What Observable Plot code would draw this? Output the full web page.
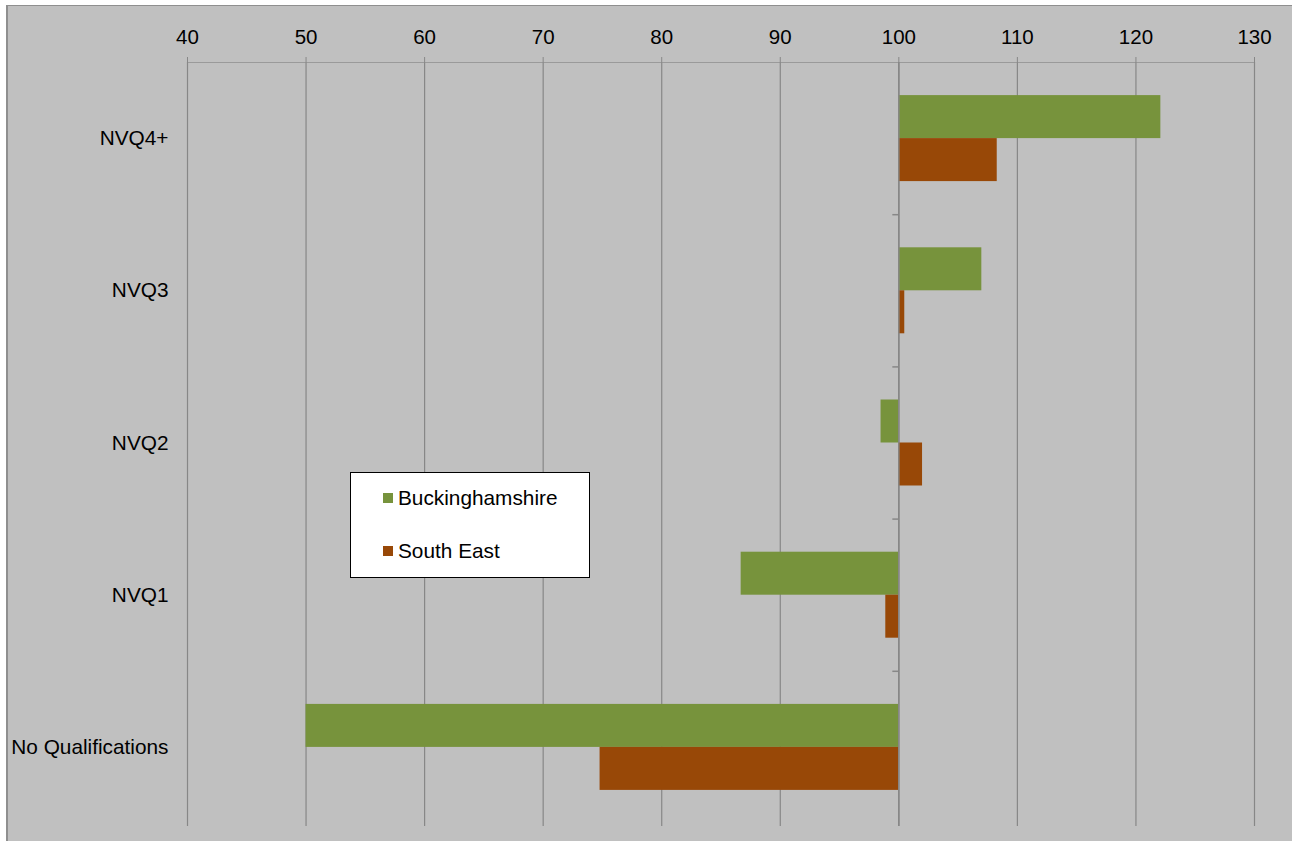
<!DOCTYPE html>
<html>
<head>
<meta charset="utf-8">
<script src="https://cdn.jsdelivr.net/npm/d3@7"></script>
<script src="https://cdn.jsdelivr.net/npm/@observablehq/plot@0.6"></script>
<style>
  html, body { margin: 0; padding: 0; background: #ffffff; }
  body { width: 1292px; height: 841px; position: relative; overflow: hidden; font-family: "Liberation Sans", Arial, sans-serif; }
  #panel { position: absolute; left: 6px; top: 5px; width: 1290px; height: 840px; background: #c0c0c0; border-left: 2px solid #8f8f8f; border-top: 1px solid #8f8f8f; }
  #chart { position: absolute; left: 0; top: 0; }
  #legend { position: absolute; left: 350px; top: 472px; width: 238px; height: 104px; background: #ffffff; border: 1px solid #000000; font-size: 20.8px; color: #000; }
  #legend .item { position: absolute; left: 32px; display: flex; align-items: center; white-space: nowrap; }
  #legend .sw { width: 10px; height: 10px; margin-right: 5px; }
</style>
</head>
<body>
<div id="panel"></div>
<div id="chart"></div>
<div id="legend"></div>
<script>
// Qualification levels (top to bottom) and index values, GB = 100
const categories = ["NVQ4+", "NVQ3", "NVQ2", "NVQ1", "No Qualifications"];
const buckinghamshire = [122.1, 107.0, 98.5, 86.7, 50.0];
const southEast = [108.3, 100.5, 102.0, 98.9, 74.8];
const seriesNames = ["Buckinghamshire", "South East"];
const seriesColors = ["#77933c", "#984807"];
const xTicks = [40, 50, 60, 70, 80, 90, 100, 110, 120, 130];
const baseline = 100;

const rows = categories.flatMap((c, i) => [
  {category: c, series: seriesNames[0], value: buckinghamshire[i]},
  {category: c, series: seriesNames[1], value: southEast[i]}
]);

const width = 1292, height = 841;
const marginTop = 62, marginBottom = 18, marginLeft = 187, marginRight = 38;
const step = (height - marginTop - marginBottom) / categories.length;
const paddingInner = 0.435;
const half = step * (1 - paddingInner) / 2;

const chart = Plot.plot({
  width, height,
  marginTop, marginBottom, marginLeft, marginRight,
  style: {background: "transparent", fontFamily: "'Liberation Sans', Arial, sans-serif", fontSize: "20.8px", color: "#000"},
  x: {domain: [40, 130], label: null},
  y: {domain: categories, paddingInner, paddingOuter: paddingInner / 2, round: false, label: null},
  color: {domain: seriesNames, range: seriesColors},
  marks: [
    // gridlines run the full height of the panel
    Plot.ruleX(xTicks, {stroke: "#878787", strokeWidth: 1.2, insetBottom: -3}),
    Plot.frame({anchor: "top", stroke: "#9a9a9a"}),
    Plot.axisX({anchor: "top", ticks: xTicks, tickSize: 6, tickPadding: 13, stroke: "#878787", fill: "#000", fontSize: 20.5, label: null}),
    Plot.axisY({anchor: "left", tickSize: 0, tickPadding: 19, fill: "#000", fontSize: 20.8, label: null}),
    Plot.barX(rows.filter(d => d.series === seriesNames[0]), {
      y: "category", x1: () => baseline, x2: "value", fill: "series", insetBottom: half
    }),
    Plot.barX(rows.filter(d => d.series === seriesNames[1]), {
      y: "category", x1: () => baseline, x2: "value", fill: "series", insetTop: half
    }),
    Plot.ruleX([baseline], {stroke: "#878787", strokeWidth: 1.5, insetBottom: -3}),
    // small category separators on the value axis at 100
    Plot.ruleY(categories.slice(1), {y: d => d, x1: baseline, x2: baseline, insetLeft: -6, dy: -step / 2, stroke: "#878787", strokeWidth: 1.5})
  ]
});
document.getElementById("chart").appendChild(chart);

// legend box
const legend = document.getElementById("legend");
seriesNames.forEach((name, i) => {
  const item = document.createElement("div");
  item.className = "item";
  item.style.top = (i === 0 ? 13 : 66) + "px";
  const sw = document.createElement("span");
  sw.className = "sw";
  sw.style.background = seriesColors[i];
  const label = document.createElement("span");
  label.textContent = name;
  item.appendChild(sw);
  item.appendChild(label);
  legend.appendChild(item);
});
</script>
</body>
</html>
